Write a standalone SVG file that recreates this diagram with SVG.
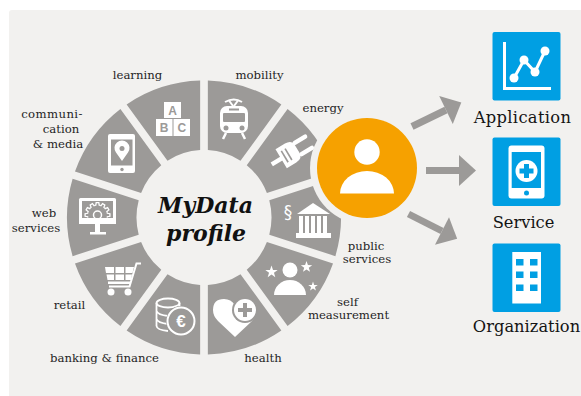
<svg xmlns="http://www.w3.org/2000/svg" xmlns:xlink="http://www.w3.org/1999/xlink" width="581" height="396" viewBox="0 0 581 396">
<style>
.seg{fill:#9c9a98}
.w{fill:#fff}
.g{fill:#9c9a98}
.ws{fill:none;stroke:#fff}
.b{fill:#009fe3}
.lab{font-family:"DejaVu Serif","Liberation Serif",serif;font-size:11.7px;fill:#1f1f1f;text-anchor:middle}
.big{font-family:"DejaVu Serif","Liberation Serif",serif;font-size:16.3px;fill:#141414;text-anchor:middle}
.title{font-family:"DejaVu Serif","Liberation Serif",serif;font-size:22px;font-weight:bold;font-style:italic;fill:#111;text-anchor:middle}
.conn{stroke:#9c9a98;stroke-width:7;fill:none;marker-end:url(#head)}
.abc{font-family:"Liberation Sans",sans-serif;font-size:12px;font-weight:bold;fill:#9c9a98;text-anchor:middle}
</style>
<defs>
<path id="seg" class="seg" d="M-38.65-131.4A137 137 0 0 1 38.65-131.4L17.16-65.28A67.5 67.5 0 0 0-17.16-65.28Z"/>
<marker id="head" markerUnits="userSpaceOnUse" markerWidth="17" markerHeight="31" refX="0" refY="15.5" orient="auto" overflow="visible"><path d="M0 0L17 15.5L0 31Z" fill="#9c9a98"/></marker>
<path id="star" d="M0-1L.235-.324.951-.309.38.124.588.809 0 .4-.588.809-.38.124-.951-.309-.235-.324Z" class="w"/>
<path id="tooth" class="ws" stroke-width="1.300" d="M-2.59-9.66A10 10 0 0 1-1.7-9.85L-1.3-12.4H1.3L1.7-9.85A10 10 0 0 1 2.59-9.66"/>
</defs>
<rect x="9" y="10" width="600" height="420" rx="3" fill="#f2f1ef"/>

<g id="node-learning">
<use xlink:href="#seg" href="#seg" transform="translate(204 217.5) rotate(-18)"/>
<rect class="w" x="164" y="102" width="17" height="16"/><rect class="w" x="156" y="119" width="16.5" height="17"/><rect class="w" x="173.500" y="119" width="16.5" height="17"/>
<text class="abc" x="172.500" y="114.500">A</text><text class="abc" x="164.200" y="132">B</text><text class="abc" x="181.800" y="132">C</text>
<text class="lab" x="137.500" y="79">learning</text>
</g>
<g id="node-mobility">
<use xlink:href="#seg" href="#seg" transform="translate(204 217.5) rotate(18)"/>
<path class="ws" stroke-width="2" d="M225 102Q234 97 242 102M229 100.500L233 106M238 100.500L234 106"/>
<rect class="w" x="220" y="106" width="28" height="27" rx="7"/>
<rect class="g" x="223" y="113" width="22" height="9" rx="1"/><rect class="g" x="229" y="108.500" width="10" height="2"/>
<circle class="g" cx="226" cy="128" r="2.500"/><circle class="g" cx="242" cy="128" r="2.500"/>
<path class="ws" stroke-width="2.500" d="M226 133L223 139M242 133L245 139"/>
<text class="lab" x="259.500" y="79">mobility</text>
</g>
<g id="node-energy">
<use xlink:href="#seg" href="#seg" transform="translate(204 217.5) rotate(54)"/>
<g transform="translate(284 157) rotate(-31) scale(1.1)">
<path class="w" d="M-3-10H7Q14-10 14-4V4Q14 10 7 10H-3Z"/>
<rect class="w" x="13" y="-8" width="15" height="4" rx="2"/><rect class="w" x="13" y="4" width="15" height="4" rx="2"/>
<rect class="g" x="0" y="-6" width="1.500" height="12"/><rect class="g" x="4" y="-6" width="1.500" height="12"/>
<rect class="w" x="-13" y="-2" width="11" height="4"/>
</g>
<text class="lab" x="323" y="112">energy</text>
</g>
<g id="node-public-services">
<use xlink:href="#seg" href="#seg" transform="translate(204 217.5) rotate(90)"/>
<text x="288" y="218" font-family="DejaVu Sans,sans-serif" font-size="17" fill="#fff" text-anchor="middle">§</text>
<path class="w" d="M313 203L330 214H297Z"/>
<rect class="w" x="305" y="216" width="4" height="17"/><rect class="w" x="299" y="216" width="4" height="17"/><rect class="w" x="317" y="216" width="4" height="17"/><rect class="w" x="323" y="216" width="4" height="17"/><rect class="w" x="311" y="216" width="4" height="17"/>
<rect class="w" x="296" y="233" width="35" height="5"/>
<text class="lab" x="366" y="250">public</text><text class="lab" x="367" y="263">services</text>
</g>
<g id="node-self-measurement">
<use xlink:href="#seg" href="#seg" transform="translate(204 217.5) rotate(126)"/>
<circle class="w" cx="290" cy="270" r="7.500"/>
<path class="w" d="M274 295A16 15 0 0 1 306 295Z"/>
<use xlink:href="#star" href="#star" transform="translate(271.500 272) scale(6.500)"/>
<use xlink:href="#star" href="#star" transform="translate(306.500 267) scale(6)"/>
<use xlink:href="#star" href="#star" transform="translate(313 286.500) scale(5)"/>
<text class="lab" x="347.500" y="306">self</text><text class="lab" x="348.500" y="319">measurement</text>
</g>
<g id="node-health">
<use xlink:href="#seg" href="#seg" transform="translate(204 217.5) rotate(162)"/>
<path class="w" d="M235 337L218 321Q213 316 213 310Q213 299 224 299Q231 299 235 305Q240 299 246 299Q257 299 257 310Q257 316 252 321Z"/>
<circle class="g" cx="245" cy="310" r="13"/><circle class="w" cx="245" cy="310" r="11"/>
<path class="g" d="M243 303H247V308H252V312H247V317H243V312H238V308H243Z"/>
<text class="lab" x="263" y="362">health</text>
</g>
<g id="node-banking-finance">
<use xlink:href="#seg" href="#seg" transform="translate(204 217.5) rotate(198)"/>
<g class="ws" stroke-width="1.800">
<ellipse cx="168" cy="303" rx="11.500" ry="4.500"/>
<path d="M156.500 303V326Q157 330 168 331M179.500 303V312M156.500 311Q158 315 168 316M156.500 319Q158 323 168 324"/>
</g>
<circle class="g" cx="181" cy="321" r="15"/>
<circle class="ws" stroke-width="2" cx="181" cy="321" r="13.500"/>
<text x="181" y="327" font-family="Liberation Sans,sans-serif" font-size="17" font-weight="bold" fill="#fff" text-anchor="middle">€</text>
<text class="lab" x="104.500" y="362">banking &amp; finance</text>
</g>
<g id="node-retail">
<use xlink:href="#seg" href="#seg" transform="translate(204 217.5) rotate(234)"/>
<path class="w" d="M105 267H114V273H106ZM115.500 267H124V273H115.500ZM125.500 267H134L132.500 273H125.500ZM106.500 274.500H114V280H107.500ZM115.500 274.500H124V280H115.500ZM125.500 274.500H132L131 280H125.500ZM108 281.500H131L130 284H108Z"/>
<path class="ws" stroke-width="2" d="M141 263.500H136.500L129.500 286.500H109"/>
<circle class="w" cx="111" cy="292" r="3.500"/><circle class="w" cx="128" cy="292" r="3.500"/>
<text class="lab" x="69.500" y="309">retail</text>
</g>
<g id="node-web-services">
<use xlink:href="#seg" href="#seg" transform="translate(204 217.5) rotate(270)"/>
<rect class="w" x="79" y="198" width="37" height="26" rx="1.500"/>
<rect class="g" x="82" y="201" width="31" height="17"/>
<g transform="translate(97.500 215)">
<use xlink:href="#tooth" href="#tooth" transform="rotate(-90)"/><use xlink:href="#tooth" href="#tooth" transform="rotate(-60)"/><use xlink:href="#tooth" href="#tooth" transform="rotate(-30)"/><use xlink:href="#tooth" href="#tooth"/><use xlink:href="#tooth" href="#tooth" transform="rotate(30)"/><use xlink:href="#tooth" href="#tooth" transform="rotate(60)"/><use xlink:href="#tooth" href="#tooth" transform="rotate(90)"/>
<circle class="ws" stroke-width="1.500" r="4"/>
</g>
<rect class="w" x="79" y="218" width="37" height="6"/>
<path class="w" d="M95 224H100V232H106V234.500H90V232H95Z"/>
<text class="lab" x="44" y="217">web</text><text class="lab" x="36" y="232">services</text>
</g>
<g id="node-communication-media">
<use xlink:href="#seg" href="#seg" transform="translate(204 217.5) rotate(306)"/>
<rect class="w" x="108" y="134" width="27" height="39" rx="2"/>
<rect class="g" x="111" y="139.500" width="21.500" height="26"/>
<path class="w" d="M122 161L116 152.500A7.500 7.500 0 1 1 128 152.500Z"/>
<circle class="g" cx="122" cy="148.500" r="2.500"/>
<circle class="g" cx="122" cy="169.500" r="1.700"/>
<text class="lab" x="52" y="118" letter-spacing=".4">communi-</text><text class="lab" x="61" y="133">cation</text><text class="lab" x="58" y="148">&amp; media</text>
</g>

<g id="node-mydata-profile">
<text class="title" x="205.500" y="213">MyData</text>
<text class="title" x="206" y="240.500">profile</text>
</g>

<g id="node-person">
<circle cx="367" cy="168" r="57" fill="#f2f1ef"/>
<circle cx="367" cy="168" r="50" fill="#f6a100"/>
<circle class="w" cx="367" cy="152" r="12.700"/>
<path class="w" d="M340 193.500A27 22.500 0 0 1 394 193.500Z"/>
</g>

<g id="connectors">
<line class="conn" x1="412" y1="126.500" x2="446" y2="110"/>
<line class="conn" x1="426" y1="170.500" x2="459" y2="170.500"/>
<line class="conn" x1="408.500" y1="214" x2="442" y2="231"/>
</g>

<g id="node-application">
<rect class="b" x="492.500" y="32" width="68" height="68.500" rx="2"/>
<path class="ws" stroke-width="3" d="M504.500 42V88.500H551M514 78L524 60L535 72L545 51"/>
<circle class="w" cx="514" cy="78" r="4.500"/><circle class="w" cx="524" cy="60" r="4.500"/><circle class="w" cx="535" cy="72" r="4.500"/><circle class="w" cx="545" cy="51" r="4.500"/>
<text class="big" x="522.500" y="123" letter-spacing=".35">Application</text>
</g>
<g id="node-service">
<rect class="b" x="492.500" y="137.500" width="68" height="68.500" rx="2"/>
<rect class="w" x="508.500" y="145.500" width="36" height="53" rx="3"/>
<rect class="b" x="511.700" y="152" width="29.300" height="36"/>
<circle class="w" cx="526.500" cy="171" r="11"/>
<path class="b" d="M524 164H529V168.500H533.500V173.500H529V178H524V173.500H519.500V168.500H524Z"/>
<circle class="b" cx="526.500" cy="193" r="2.500"/>
<text class="big" x="523.500" y="228">Service</text>
</g>
<g id="node-organization">
<rect class="b" x="492.500" y="243.500" width="68" height="68.500" rx="2"/>
<rect class="w" x="512.300" y="252" width="28.700" height="51.500"/>
<rect class="b" x="516" y="259" width="7.500" height="6.500"/><rect class="b" x="530" y="259" width="7.500" height="6.500"/>
<rect class="b" x="516" y="271.500" width="7.500" height="6.500"/><rect class="b" x="530" y="271.500" width="7.500" height="6.500"/>
<rect class="b" x="516" y="284.500" width="7.500" height="6.500"/><rect class="b" x="530" y="284.500" width="7.500" height="6.500"/>
<text class="big" x="526.500" y="332">Organization</text>
</g>
</svg>
